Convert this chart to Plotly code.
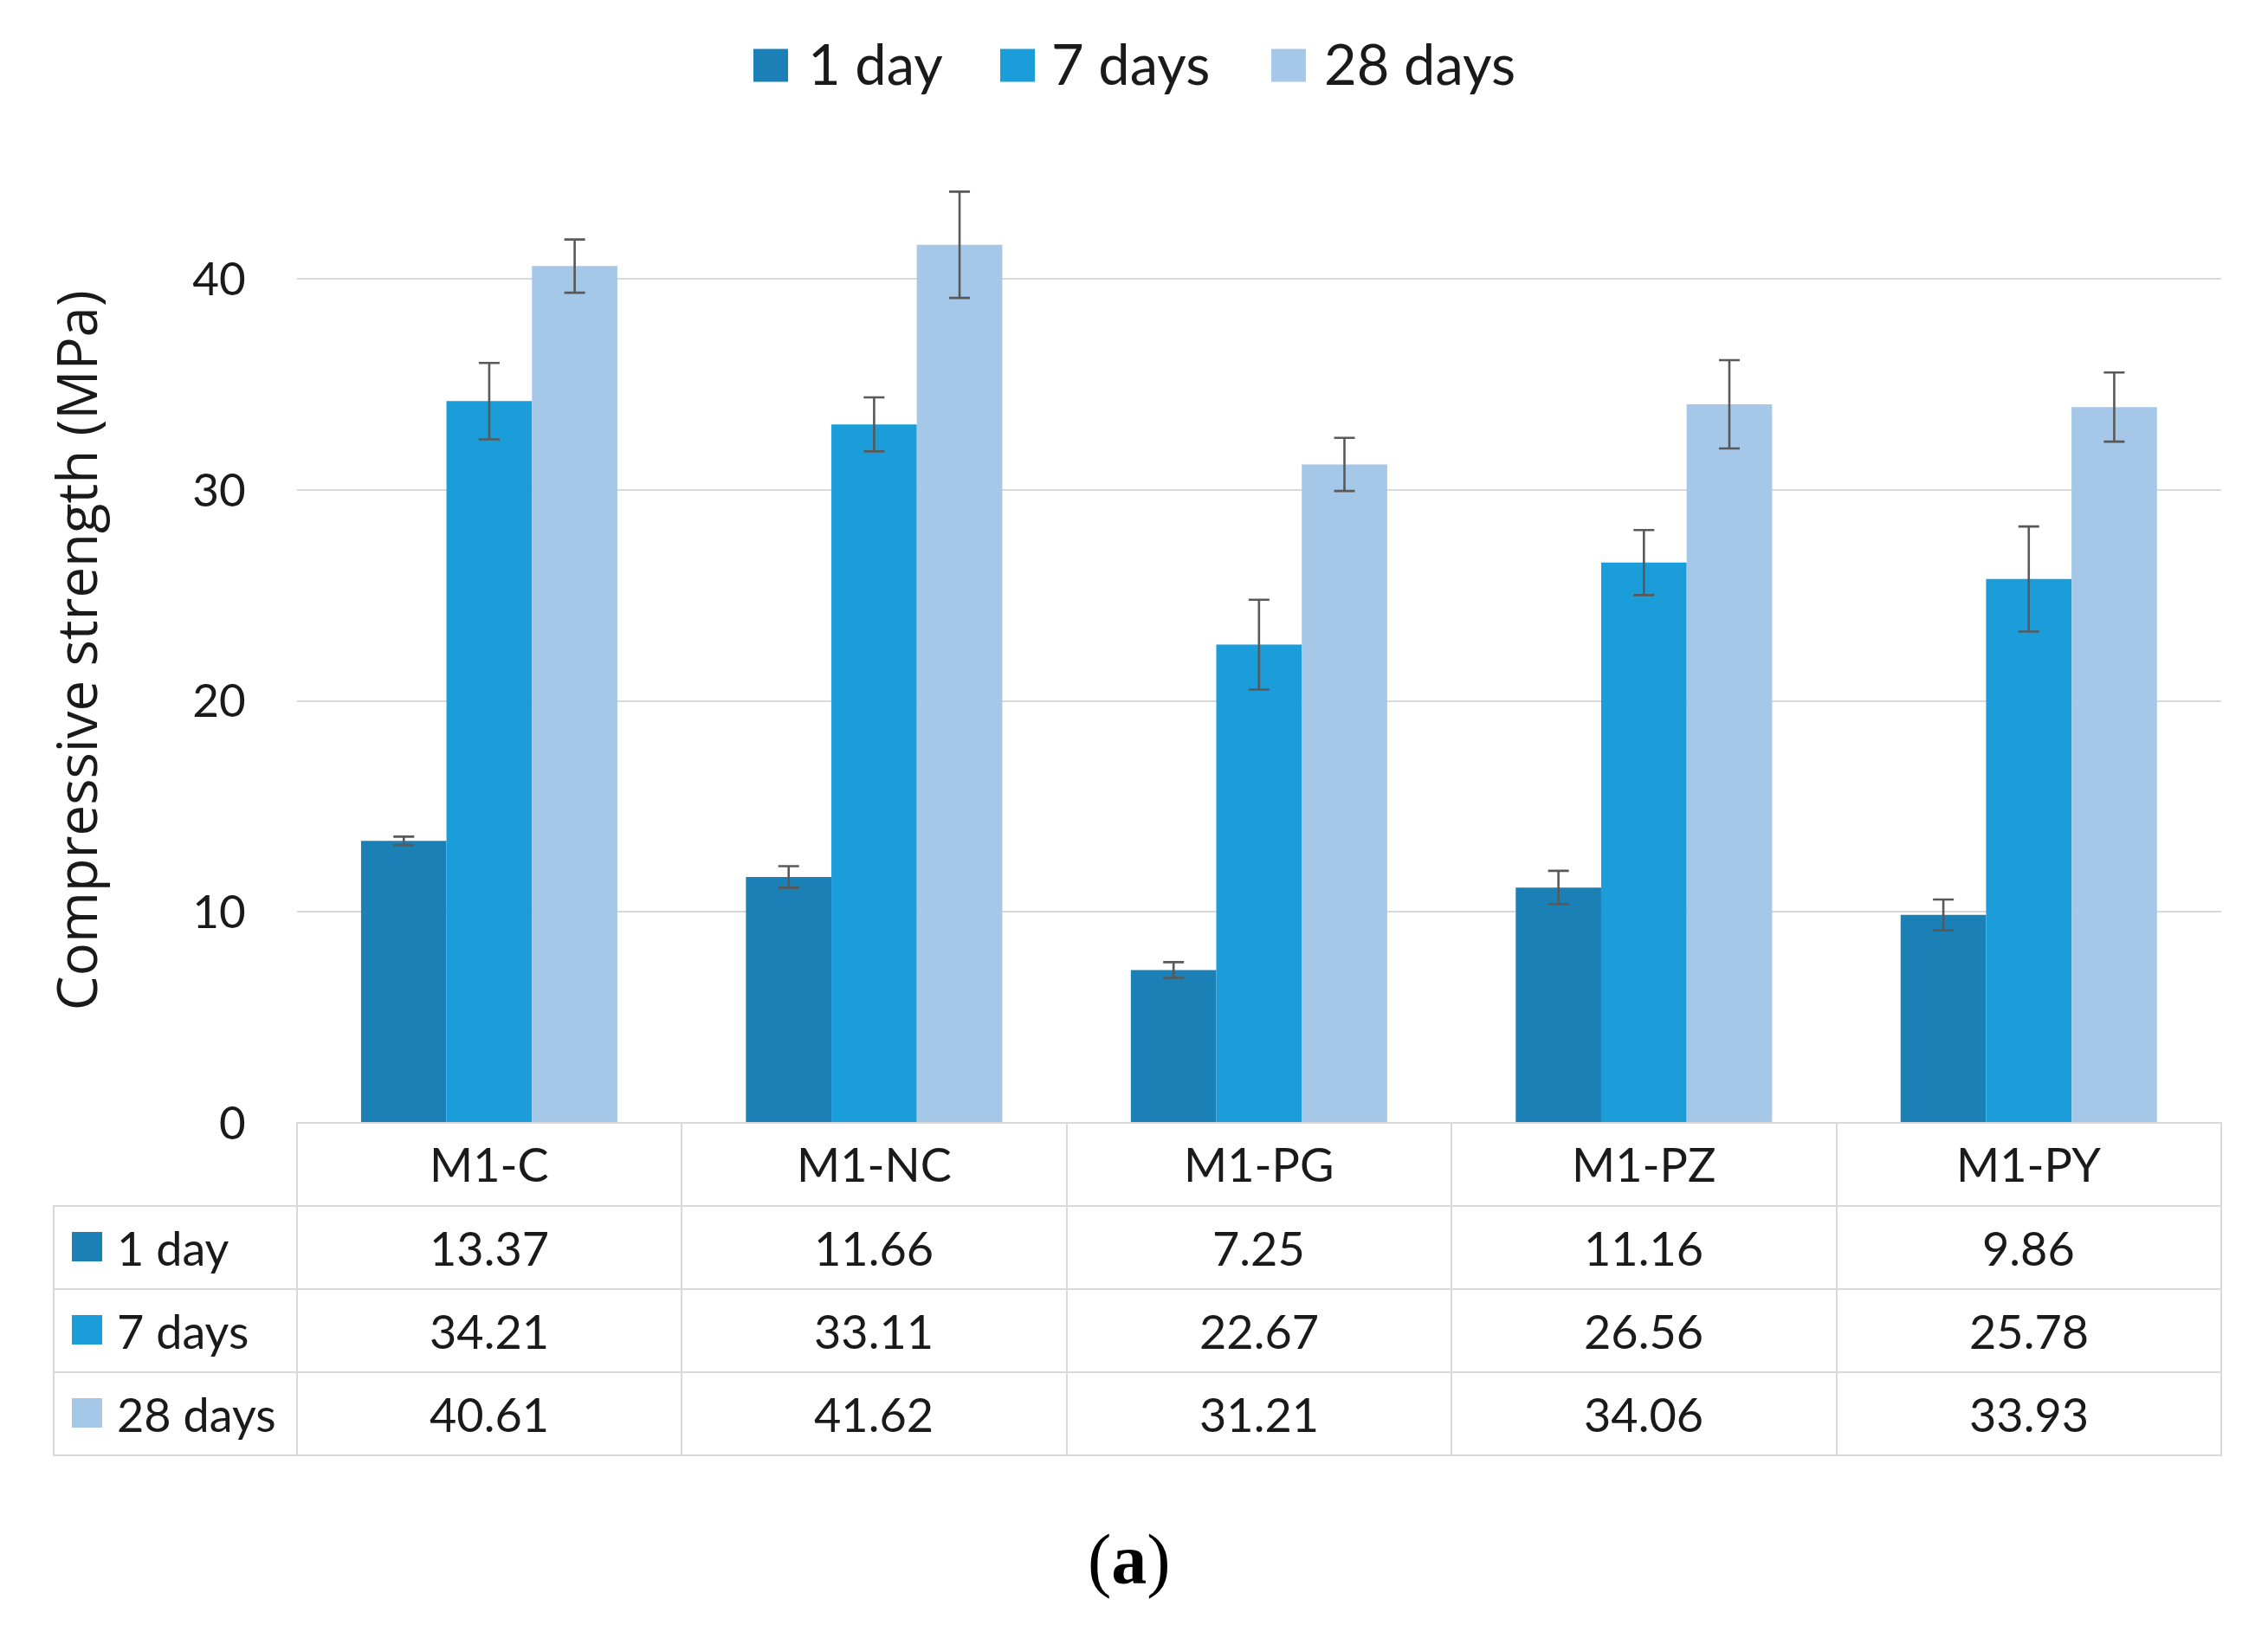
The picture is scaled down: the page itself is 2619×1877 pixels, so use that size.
import plotly.graph_objects as go

# ---------------- data ----------------
categories = ["M1-C", "M1-NC", "M1-PG", "M1-PZ", "M1-PY"]
series_names = ["1 day", "7 days", "28 days"]
day1 = [13.37, 11.66, 7.25, 11.16, 9.86]
day7 = [34.21, 33.11, 22.67, 26.56, 25.78]
day28 = [40.61, 41.62, 31.21, 34.06, 33.93]
err1 = [0.20, 0.51, 0.37, 0.79, 0.73]
err7 = [1.81, 1.28, 2.13, 1.54, 2.49]
err28 = [1.26, 2.52, 1.26, 2.09, 1.64]
y_ticks = [0, 10, 20, 30, 40]
y_title = "Compressive strength (MPa)"
caption = "(<b>a</b>)"

series_values = [day1, day7, day28]
series_errors = [err1, err7, err28]
colors = ["#1A80B6", "#1A9DD9", "#A5C8E8"]

# ---------------- geometry (page pixels; page body has an 8px margin) ----------------
OFF = 8
W, H = 2619 - OFF, 1877 - OFF
TABLE_LEFT, AXIS_LEFT, RIGHT = 62, 342.7, 2565
BASE_Y, ROW_H, N_ROWS = 1297, 96, 4
Y_MAX = 46
UNIT = 24.38
PLOT_TOP = BASE_Y - Y_MAX * UNIT
TABLE_BOTTOM = BASE_Y + N_ROWS * ROW_H
PAD_BOTTOM = 6  # room so the table's bottom border is not clipped

ML = TABLE_LEFT - OFF
MR = W - (RIGHT - OFF) - 2
MT = PLOT_TOP - OFF
MB = H - (TABLE_BOTTOM + PAD_BOTTOM - OFF)
PW, PH = W - ML - MR, H - MT - MB


def px_x(x):
    return (x - OFF - ML) / PW


def px_y(y):
    return (H - MB - (y - OFF)) / PH


fig = go.Figure()

for name, vals, errs, col in zip(series_names, series_values, series_errors, colors):
    fig.add_trace(go.Bar(
        x=categories, y=vals, name=name,
        marker=dict(color=col, line=dict(width=0)),
        error_y=dict(type="data", array=errs, visible=True,
                     color="#595959", thickness=2.6, width=12),
        showlegend=False,
    ))

# ---------------- data table grid ----------------
grey = "#D9D9D9"
n = len(categories)
col_w = (RIGHT - AXIS_LEFT) / n
fig.add_trace(go.Table(
    domain=dict(x=[0, px_x(RIGHT)], y=[0, px_y(BASE_Y)]),
    columnwidth=[AXIS_LEFT - TABLE_LEFT] + [col_w] * n,
    header=dict(
        values=[""] * (n + 1),
        height=ROW_H,
        fill=dict(color=["rgba(0,0,0,0)"] + ["white"] * n),
        line=dict(color=["rgba(0,0,0,0)"] + [grey] * n, width=[0] + [2] * n),
    ),
    cells=dict(
        values=[[""] * 3 for _ in range(n + 1)],
        height=ROW_H,
        fill=dict(color="white"),
        line=dict(color=grey, width=2),
    ),
))

shapes = []
annotations = []
tfont = dict(family="Lato", size=54, color="#1a1a1a")

# header labels
for i, cat in enumerate(categories):
    cx = AXIS_LEFT + (i + 0.5) * col_w
    annotations.append(dict(text=cat, xref="paper", yref="paper",
                            x=px_x(cx), y=px_y(BASE_Y + ROW_H / 2 - 1),
                            xanchor="center", yanchor="middle", showarrow=False, font=tfont))

# value cells + row labels with colour keys
for s, (name, col) in enumerate(zip(series_names, colors)):
    cy = BASE_Y + ROW_H * (s + 1.5)
    shapes.append(dict(type="rect", xref="paper", yref="paper",
                       x0=px_x(83), x1=px_x(118), y0=px_y(cy + 16), y1=px_y(cy - 18),
                       fillcolor=col, line=dict(width=0)))
    annotations.append(dict(text=name, xref="paper", yref="paper",
                            x=px_x(133), y=px_y(cy), xanchor="left", yanchor="middle",
                            showarrow=False, font=tfont))
    for i in range(n):
        cx = AXIS_LEFT + (i + 0.5) * col_w
        annotations.append(dict(text=f"{series_values[s][i]:.2f}", xref="paper", yref="paper",
                                x=px_x(cx), y=px_y(cy), xanchor="center", yanchor="middle",
                                showarrow=False, font=tfont))

# top legend
leg_sq_x = [870, 1155, 1468]
leg_tx_x = [931, 1212, 1527]
for name, col, sx, tx in zip(series_names, colors, leg_sq_x, leg_tx_x):
    shapes.append(dict(type="rect", xref="paper", yref="paper",
                       x0=px_x(sx), x1=px_x(sx + 40), y0=px_y(94), y1=px_y(56),
                       fillcolor=col, line=dict(width=0)))
    annotations.append(dict(text=name, xref="paper", yref="paper",
                            x=px_x(tx), y=px_y(72), xanchor="left", yanchor="middle",
                            showarrow=False,
                            font=dict(family="Lato", size=65, color="#1a1a1a")))

# y-axis title
annotations.append(dict(text=y_title, xref="paper", yref="paper",
                        x=px_x(87), y=px_y(751), xanchor="center", yanchor="middle",
                        textangle=-90, showarrow=False,
                        font=dict(family="Open Sans", size=63.5, color="#1a1a1a")))

# caption
annotations.append(dict(text=caption, xref="paper", yref="paper",
                        x=px_x(1304), y=px_y(1802), xanchor="center", yanchor="middle",
                        showarrow=False,
                        font=dict(family="Liberation Serif", size=82, color="black")))

fig.update_layout(
    width=W, height=H, autosize=False,
    margin=dict(l=ML, r=MR, t=MT, b=MB, pad=0),
    paper_bgcolor="white", plot_bgcolor="white",
    barmode="group", bargap=0.334, bargroupgap=0,
    shapes=shapes, annotations=annotations,
    xaxis=dict(domain=[px_x(AXIS_LEFT), px_x(RIGHT)], showticklabels=False, showgrid=False,
               zeroline=False, showline=False, ticks=""),
    yaxis=dict(domain=[px_y(BASE_Y), 1], range=[0, Y_MAX], tickvals=y_ticks,
               showgrid=True, gridcolor=grey, gridwidth=2, zeroline=False,
               showline=False, ticks="", ticklabelstandoff=58,
               tickfont=dict(family="Lato", size=53, color="#1a1a1a")),
)

fig.write_html("out.html")
